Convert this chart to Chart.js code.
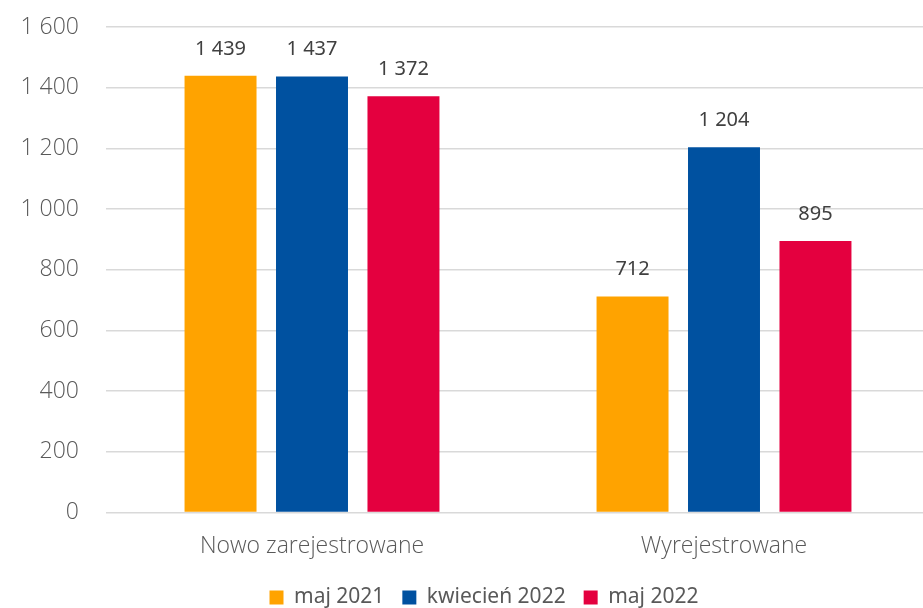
<!DOCTYPE html>
<html><head><meta charset="utf-8">
<script src="https://cdn.jsdelivr.net/npm/chart.js@4/dist/chart.umd.min.js"></script>
<style>
html,body{margin:0;padding:0;overflow:hidden;background:#fff;width:923px;height:608px;}
#wrap{position:absolute;left:0;top:0;width:930px;height:608px;}
</style></head>
<body><div id="wrap"><canvas id="c" width="930" height="608"></canvas></div>
<script>
const categories = ["Nowo zarejestrowane", "Wyrejestrowane"];
const seriesNames = ["maj 2021", "kwiecień 2022", "maj 2022"];
const maj2021 = [1439, 712];
const kwiecien2022 = [1437, 1204];
const maj2022 = [1372, 895];
const yTicks = [0, 200, 400, 600, 800, 1000, 1200, 1400, 1600];
const colors = ["#FFA300", "#0051A0", "#E4003F"];

function fmt(v){ return String(v).replace(/\B(?=(\d{3})+(?!\d))/g, " "); }

const labelPlugin = {
  id: 'valLabels',
  afterDatasetsDraw(chart){
    const ctx = chart.ctx;
    ctx.save();
    ctx.font = '20px "Noto Sans", sans-serif';
    ctx.fillStyle = '#404040';
    ctx.textAlign = 'center';
    ctx.textBaseline = 'middle';
    chart.data.datasets.forEach((ds, i) => {
      chart.getDatasetMeta(i).data.forEach((bar, j) => {
        ctx.fillText(fmt(ds.data[j]), bar.x, bar.y - 27);
      });
    });
    ctx.restore();
  }
};

const legendShift = {
  id: 'legendShift',
  afterLayout(chart){
    const d = 19;
    chart.legend.left += d;
    chart.legend.right += d;
  }
};

new Chart(document.getElementById('c'), {
  type: 'bar',
  data: {
    labels: categories,
    datasets: [
      {label: seriesNames[0], data: maj2021, backgroundColor: colors[0]},
      {label: seriesNames[1], data: kwiecien2022, backgroundColor: colors[1]},
      {label: seriesNames[2], data: maj2022, backgroundColor: colors[2]}
    ]
  },
  options: {
    responsive: false,
    animation: false,
    categoryPercentage: 0.666,
    barPercentage: 0.787,
    layout: {padding: {top: 27, right: 0, left: 0, bottom: -10}},
    plugins: {
      tooltip: {enabled: false},
      legend: {
        position: 'bottom',
        labels: {
          boxWidth: 14, boxHeight: 14, padding: 18,
          color: '#595959',
          font: {family: '"Noto Sans", sans-serif', size: 21}
        }
      }
    },
    scales: {
      x: {
        grid: {display: false, drawTicks: false},
        border: {display: false},
        afterFit(s){ s.height -= 11; },
        ticks: {color: '#595959', padding: 20, font: {family: '"Open Sans", sans-serif', size: 23, weight: 300}}
      },
      y: {
        min: 0, max: 1600,
        afterBuildTicks(s){ s.ticks = yTicks.map(v => ({value: v})); },
        afterFit(s){ s.width = 106; s.paddingTop = 0; s.paddingBottom = 0; },
        grid: {color: '#d9d9d9', lineWidth: 1.5, drawTicks: false},
        border: {display: false},
        ticks: {color: '#595959', padding: 27, font: {family: '"Open Sans", sans-serif', size: 23, weight: 300},
          callback: v => fmt(v)}
      }
    }
  },
  plugins: [labelPlugin, legendShift]
});
</script></body></html>
